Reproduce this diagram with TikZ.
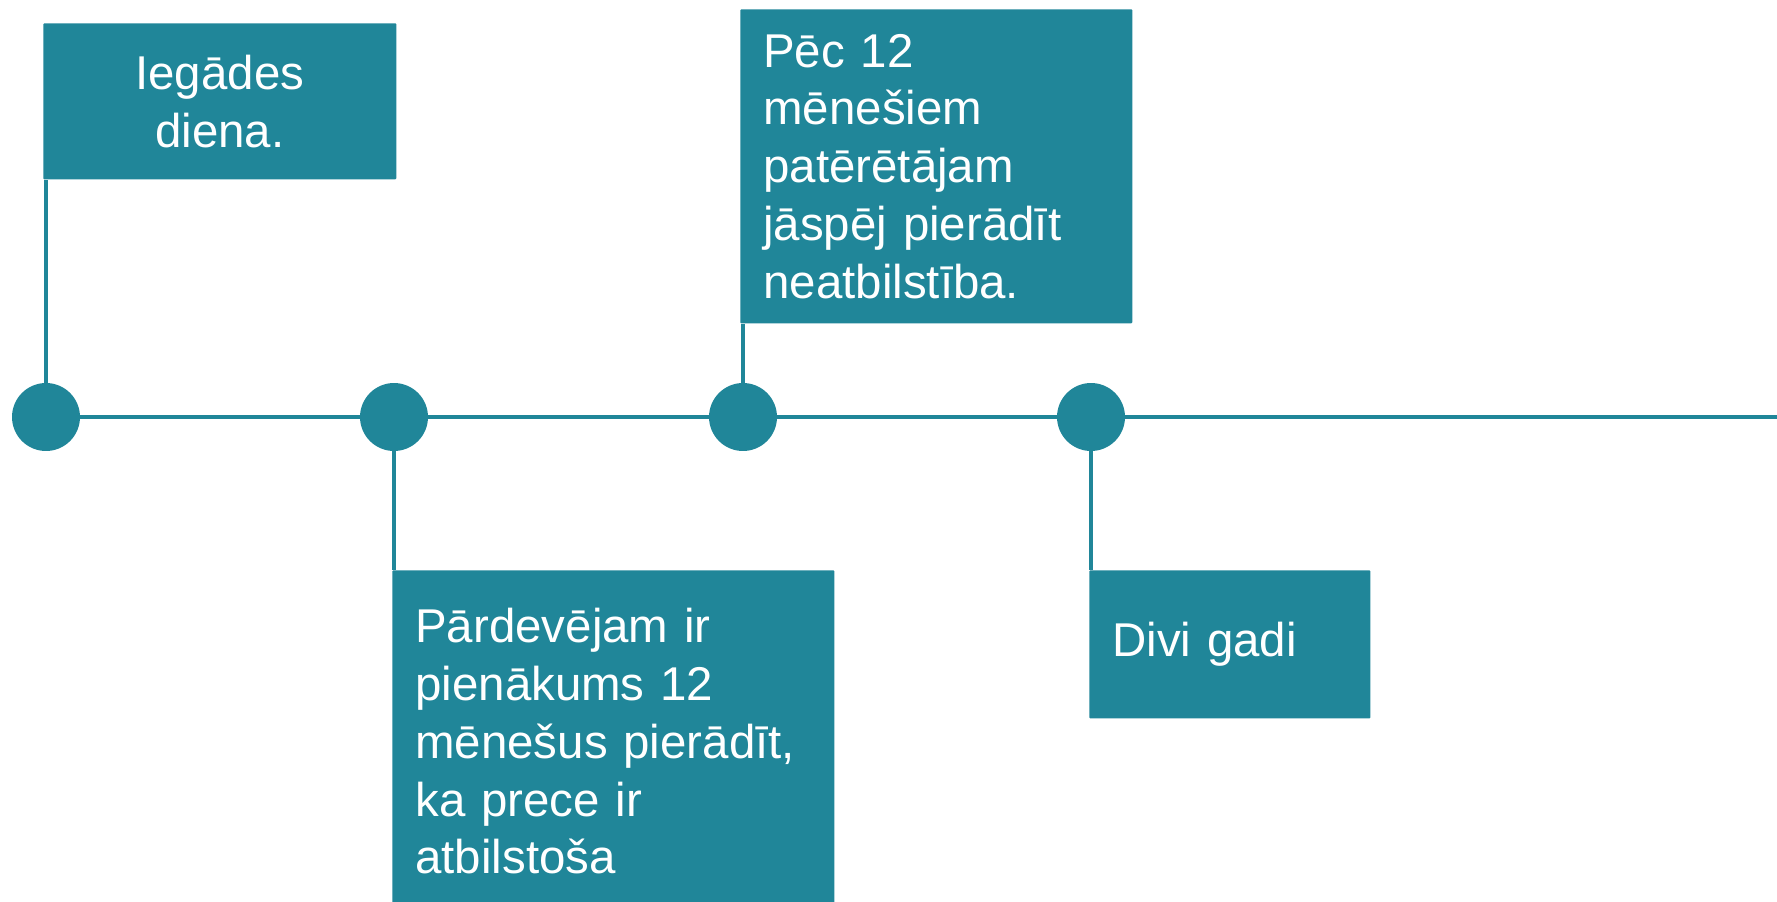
\documentclass[tikz,border=0pt]{standalone}
\usepackage{fontspec}
\setmainfont{Liberation Sans}
\definecolor{tealbox}{RGB}{32,134,153}
\begin{document}
\begin{tikzpicture}[x=0.02cm,y=-0.02cm]

      \tikzset{dot/.style={circle, fill=tealbox, inner sep=0pt, minimum size=1.36cm},
               infobox/.style={fill=tealbox, text=white, rounded corners=0.5pt, inner xsep=0.46cm, inner ysep=0pt, anchor=north west, font=\fontsize{27}{32.9}\selectfont},
               stem/.style={draw=tealbox, line width=2pt},
               axis/.style={draw=tealbox, line width=2.6pt}}

      \useasboundingbox (0,0) rectangle (1777,902);

% Punkti
	%Laika ass
      	\node[dot] (c1) at (46,417) {};
      	\node[dot] (c2) at (394,417) {};
    	\node[dot] (c3) at (743,417) {};
  	    \node[dot] (c4) at (1091,417) {};
  	    \coordinate (end) at (1777,417);

% Kastes
	%Virs ass
		\node[infobox, text width=6.14cm, minimum height=3.12cm, align=center] (b1) at (43,23) {Iegādes\\diena.};
		\node[infobox, text width=6.92cm, minimum height=6.28cm, align=left] (b3) at (740,9) {Pēc 12\\mēnešiem\\patērētājam\\jāspēj pierādīt\\neatbilstība.};
	%Zem ass
		\node[infobox, text width=7.92cm, minimum height=6.84cm, align=left] (b2) at (392,570) {Pārdevējam ir\\pienākums 12\\mēnešus pierādīt,\\ka prece ir\\atbilstoša};
		\node[infobox, text width=4.7cm, minimum height=2.96cm, align=left] (b4) at (1089,570) {Divi gadi};

%Savienojumi
	%Ass
		\path[axis] (c1) edge (c2);
		\path[axis] (c2) edge (c3);
		\path[axis] (c3) edge (c4);
		\path[axis] (c4) edge (end);

	%Kati
		\path[stem] (c1) edge (c1 |- b1.south);
		\path[stem] (c2) edge (c2 |- b2.north);
		\path[stem] (c3) edge (c3 |- b3.south);
		\path[stem] (c4) edge (c4 |- b4.north);

	\end{tikzpicture}
\end{document}
